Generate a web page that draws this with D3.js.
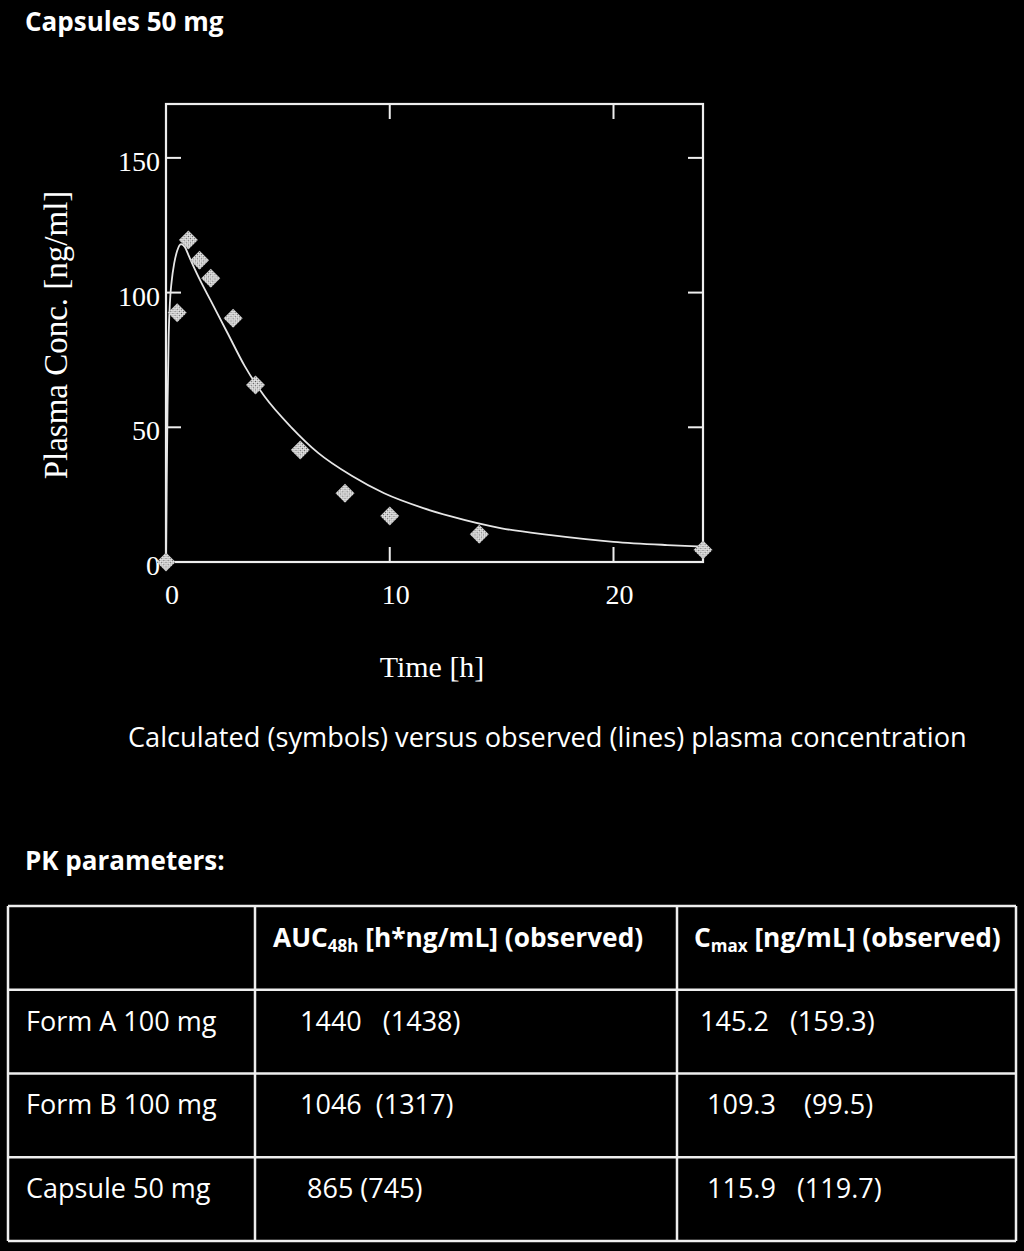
<!DOCTYPE html>
<html>
<head>
<meta charset="utf-8">
<script src="https://cdn.jsdelivr.net/npm/d3@7"></script>
<style>
  html, body { margin: 0; padding: 0; background: #000; }
  svg { display: block; }
  .sans { font-family: "Open Sans", Lato, sans-serif; fill: #fff; }
  .serif { font-family: "Liberation Serif", "DejaVu Serif", serif; fill: #fff; }
</style>
</head>
<body>
<div id="chart"></div>
<script>
// simulated (symbols) and observed (line) plasma conc, capsule 50 mg
var symTime = [0, 0.5, 1, 1.5, 2, 3, 4, 6, 8, 10, 14, 24];
var symConc = [0, 92.5, 119.5, 112, 105.3, 90.5, 65.7, 41.6, 25.5, 17.1, 10.3, 4.5];

var lineTime = [0, 0.03, 0.07, 0.12, 0.18, 0.25, 0.37, 0.5, 0.67, 0.85, 1.0, 1.27, 1.5, 2.0, 2.75, 3.5, 4.4, 5.6, 6.8, 8.3, 9.75, 11.5, 12.7, 15, 17.2, 20, 22.4, 24];
var lineConc = [0, 28, 58, 84, 97, 104, 111, 115.5, 118, 116.8, 114, 109, 105, 97, 85, 73, 61.5, 50, 40.5, 32, 25.5, 20, 17, 12.5, 10, 7.5, 6.3, 5.7];

var xTicks = [0, 10, 20];
var yTicks = [0, 50, 100, 150];

// PK table
var tableHeader = ["", "AUC|48h| [h*ng/mL] (observed)", "C|max| [ng/mL] (observed)"];
var rowNames = ["Form A 100 mg", "Form B 100 mg", "Capsule 50 mg"];
var aucText = ["1440   (1438)", "1046  (1317)", " 865 (745)"];
var cmaxText = ["145.2   (159.3)", " 109.3    (99.5)", " 115.9   (119.7)"];

var svg = d3.select("#chart").append("svg").attr("width", 1024).attr("height", 1251);

svg.append("text").attr("class", "sans").attr("x", 25).attr("y", 31)
  .style("font-size", "26px").style("font-weight", "bold").text("Capsules 50 mg");

// plot frame
var pL = 166, pR = 703, pT = 104, pB = 562;
var x = d3.scaleLinear().domain([0, 24]).range([pL, pR]);
var y = d3.scaleLinear().domain([0, 170]).range([pB, pT]);

var tickLen = 15;
var g = svg.append("g");

g.append("rect").attr("x", pL).attr("y", pT).attr("width", pR - pL).attr("height", pB - pT)
  .style("fill", "none").style("stroke", "#eee").style("stroke-width", 2.2);

// inner ticks on all four sides
g.selectAll("line.xb").data(xTicks.slice(1)).enter().append("line")
  .attr("x1", x).attr("x2", x).attr("y1", pB).attr("y2", pB - tickLen)
  .style("stroke", "#eee").style("stroke-width", 2);
g.selectAll("line.xt").data(xTicks.slice(1)).enter().append("line")
  .attr("x1", x).attr("x2", x).attr("y1", pT).attr("y2", pT + tickLen)
  .style("stroke", "#eee").style("stroke-width", 2);
g.selectAll("line.yl").data(yTicks.slice(1)).enter().append("line")
  .attr("x1", pL).attr("x2", pL + tickLen).attr("y1", y).attr("y2", y)
  .style("stroke", "#eee").style("stroke-width", 2);
g.selectAll("line.yr").data(yTicks.slice(1)).enter().append("line")
  .attr("x1", pR).attr("x2", pR - tickLen).attr("y1", y).attr("y2", y)
  .style("stroke", "#eee").style("stroke-width", 2);

g.selectAll("text.xl").data(xTicks).enter().append("text").attr("class", "serif")
  .attr("x", function(d) { return x(d) + 6; }).attr("y", 604)
  .attr("text-anchor", "middle").style("font-size", "28px").text(String);
g.selectAll("text.yl").data(yTicks).enter().append("text").attr("class", "serif")
  .attr("x", 160).attr("y", function(d) { return y(d) + 13; })
  .attr("text-anchor", "end").style("font-size", "28px").text(String);

g.append("text").attr("class", "serif").attr("x", 432).attr("y", 677)
  .attr("text-anchor", "middle").style("font-size", "30px").text("Time [h]");
g.append("text").attr("class", "serif")
  .attr("transform", "translate(67,335) rotate(-90)")
  .attr("text-anchor", "middle").style("font-size", "33px").text("Plasma Conc. [ng/ml]");

// observed line
var line = d3.line().x(function(d) { return x(d[0]); }).y(function(d) { return y(d[1]); })
  .curve(d3.curveMonotoneX);
g.append("path").datum(d3.zip(lineTime, lineConc)).attr("d", line)
  .style("fill", "none").style("stroke", "#e6e6e6").style("stroke-width", 1.8);

// calculated symbols
var defs = svg.append("defs");
var pat = defs.append("pattern").attr("id", "hatch").attr("patternUnits", "userSpaceOnUse")
  .attr("width", 3).attr("height", 3);
pat.append("rect").attr("width", 3).attr("height", 3).style("fill", "#e8e8e8");
pat.append("rect").attr("width", 1).attr("height", 1).style("fill", "#555");
pat.append("rect").attr("x", 1.5).attr("y", 1.5).attr("width", 1).attr("height", 1).style("fill", "#555");

var sym = d3.symbol().type(d3.symbolSquare).size(180);
g.selectAll("path.pt").data(d3.zip(symTime, symConc)).enter().append("path")
  .attr("d", sym)
  .attr("transform", function(d) { return "translate(" + x(d[0]) + "," + y(d[1]) + ") rotate(45)"; })
  .style("fill", "url(#hatch)");

svg.append("text").attr("class", "sans").attr("x", 128).attr("y", 747)
  .style("font-size", "27.2px").text("Calculated (symbols) versus observed (lines) plasma concentration");

svg.append("text").attr("class", "sans").attr("x", 25).attr("y", 870)
  .style("font-size", "26px").style("font-weight", "bold").text("PK parameters:");

// table
var colEdges = [8, 255, 677, 1016];
var rowY = d3.scaleBand().domain(d3.range(4)).range([906, 1241]);
var tg = svg.append("g");

tg.selectAll("line.h").data(d3.range(5)).enter().append("line")
  .attr("x1", colEdges[0]).attr("x2", colEdges[3])
  .attr("y1", function(d) { return d < 4 ? rowY(d) : rowY.range()[1]; })
  .attr("y2", function(d) { return d < 4 ? rowY(d) : rowY.range()[1]; })
  .style("stroke", "#eee").style("stroke-width", 2.5);
tg.selectAll("line.v").data(colEdges).enter().append("line")
  .attr("x1", String).attr("x2", String).attr("y1", 906).attr("y2", 1241)
  .style("stroke", "#eee").style("stroke-width", 2.5);

var headPad = [18, 18, 17];
tableHeader.forEach(function(h, i) {
  if (!h) return;
  var parts = h.split("|");
  var t = tg.append("text").attr("class", "sans")
    .attr("x", colEdges[i] + headPad[i]).attr("y", rowY(0) + rowY.bandwidth() / 2 - 1)
    .style("font-size", "26.3px").style("font-weight", "bold");
  t.append("tspan").text(parts[0]);
  t.append("tspan").attr("dy", 5).style("font-size", "17px").text(parts[1]);
  t.append("tspan").attr("dy", -5).text(parts[2]);
});

var cellPad = [18, 45, 23];
rowNames.forEach(function(name, r) {
  var cells = [name, aucText[r], cmaxText[r]];
  cells.forEach(function(c, i) {
    tg.append("text").attr("class", "sans")
      .attr("x", colEdges[i] + cellPad[i]).attr("y", rowY(r + 1) + rowY.bandwidth() / 2 - 1)
      .style("font-size", "27px").style("white-space", "pre").text(c);
  });
});
</script>
</body>
</html>
